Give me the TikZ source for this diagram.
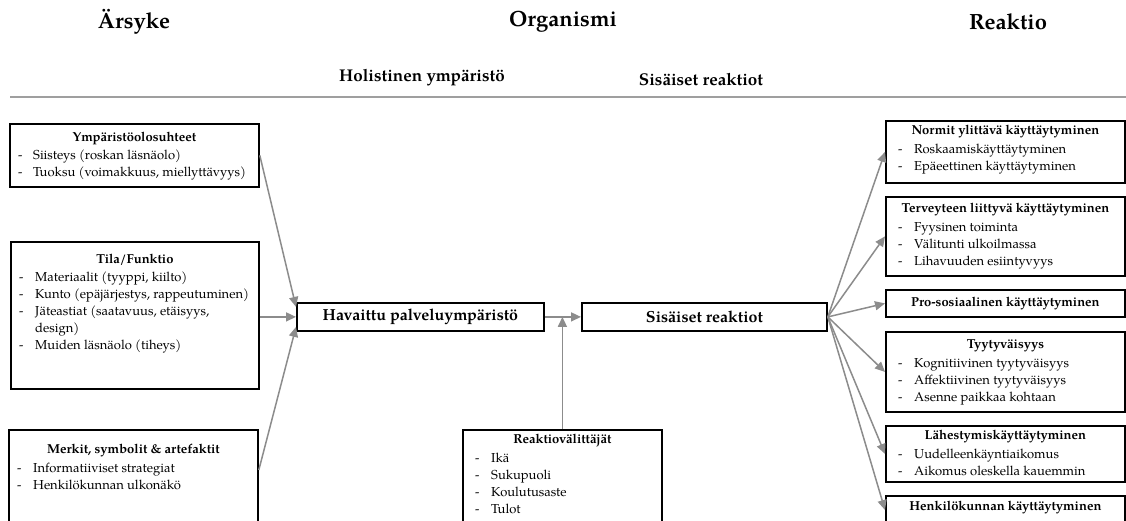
\documentclass[tikz,border=0pt]{standalone}
\usepackage{fontspec}
\setmainfont{texgyrepagella}[Extension=.otf, UprightFont=*-regular, BoldFont=*-bold, ItalicFont=*-italic, BoldItalicFont=*-bolditalic]
\usetikzlibrary{arrows.meta,calc}

\definecolor{linkgray}{HTML}{8C8C8C}

\tikzset{
  frame/.style={draw=black, line width=1.8pt, fill=white, anchor=north west, inner sep=0pt},
  headtext/.style={font=\fontsize{13}{17}\selectfont\bfseries, inner sep=0pt},
  body/.style={anchor=north west, inner sep=0pt, align=left, font=\fontsize{13}{17}\selectfont},
  bigbox/.style={frame, font=\fontsize{16}{19}\selectfont\bfseries},
  link/.style={draw=linkgray, line width=1.5pt, -{Triangle[length=10pt,width=9pt]}},
  column/.style={font=\fontsize{22}{26}\selectfont\bfseries, inner sep=0pt},
  subcolumn/.style={font=\fontsize{17}{20}\selectfont\bfseries, inner sep=0pt},
}

% list entry: dash followed by the text
\newcommand\dashitem[2][16pt]{\makebox[#1][l]{-}#2}

% boxed panel: name, x, y, width, height, title offset, item indent, title, items
\newcommand\panel[9]{%
  \node[frame, minimum width=#4pt, minimum height=#5pt] (#1) at (#2,#3) {};
  \node[headtext] (#1-t) at ($(#1.north)+(0,#6)$) {#8};
  \node[body] (#1-i) at ($(#1.north west)+(#7,#6+9.6)$) {\strut #9};
}

\begin{document}
\begin{tikzpicture}[x=1pt, y=-1pt]
  \clip (0,0) rectangle (1126,520);
  \fill[white] (0,0) rectangle (1126,520);

  % column headings
  \node[column] (cA) at (134,22) {Ärsyke};
  \node[column] (cB) at (563,22) {Organismi};
  \node[column] (cC) at (1008,22) {Reaktio};
  \node[subcolumn] (sA) at (422,78) {Holistinen ympäristö};
  \node[subcolumn] (sB) at (701,80) {Sisäiset reaktiot};
  \draw[draw=gray!75, line width=2pt] (10,97) -- (1126,97);

  % stimulus panels
  \panel{l1}{9}{123}{249}{63}{15}{9}{Ympäristöolosuhteet}{%
    \dashitem[15pt]{Siisteys (roskan läsnäolo)}\\
    \dashitem[15pt]{Tuoksu (voimakkuus, miellyttävyys)}}
  \panel{l2}{10}{241}{248}{147}{19}{9}{Tila/Funktio}{%
    \dashitem{Materiaalit (tyyppi, kiilto)}\\
    \dashitem{Kunto (epäjärjestys, rappeutuminen)}\\
    \dashitem{Jäteastiat (saatavuus, etäisyys,}\\
    \hspace*{16pt}design)\\
    \dashitem{Muiden läsnäolo (tiheys)}}
  \panel{l3}{8}{429}{249}{130}{22}{9}{Merkit, symbolit \& artefaktit}{%
    \dashitem{Informatiiviset strategiat}\\
    \dashitem{Henkilökunnan ulkonäkö}}

  % organism
  \node[bigbox, minimum width=247pt, minimum height=28pt] (hav) at (296,302) {Havaittu palveluympäristö};
  \node[bigbox, minimum width=245pt, minimum height=28pt] (sis) at (581,302) {Sisäiset reaktiot};
  \panel{rv}{462}{429}{199}{130}{12}{13}{Reaktiovälittäjät}{%
    \dashitem{Ikä}\\
    \dashitem{Sukupuoli}\\
    \dashitem{Koulutusaste}\\
    \dashitem{Tulot}}

  % response panels
  \panel{r1}{885}{120}{239}{62}{12}{13}{Normit ylittävä käyttäytyminen}{%
    \dashitem{Roskaamiskäyttäytyminen}\\
    \dashitem{Epäeettinen käyttäytyminen}}
  \panel{r2}{885}{196}{239}{79}{14}{13}{Terveyteen liittyvä käyttäytyminen}{%
    \dashitem{Fyysinen toiminta}\\
    \dashitem{Välitunti ulkoilmassa}\\
    \dashitem{Lihavuuden esiintyvyys}}
  \node[frame, headtext, minimum width=239pt, minimum height=27pt] (r3) at (885,289) {Pro-sosiaalinen käyttäytyminen};
  \panel{r4}{885}{331}{239}{80}{15}{13}{Tyytyväisyys}{%
    \dashitem{Kognitiivinen tyytyväisyys}\\
    \dashitem{Affektiivinen tyytyväisyys}\\
    \dashitem{Asenne paikkaa kohtaan}}
  \panel{r5}{885}{425}{239}{56}{12}{13}{Lähestymiskäyttäytyminen}{%
    \dashitem{Uudelleenkäyntiaikomus}\\
    \dashitem{Aikomus oleskella kauemmin}}
  \node[frame, minimum width=239pt, minimum height=60pt] (r6) at (885,495) {};
  \node[headtext] (r6-t) at ($(r6.north)+(0,13)$) {Henkilökunnan käyttäytyminen};

  % connectors
  \draw[link] (l1.east) -- ([yshift=10pt]hav.west);
  \draw[link] (l2.east |- hav.west) -- (hav.west);
  \draw[link] ([yshift=-41pt]l3.north east) -- ([yshift=-10pt]hav.west);
  \draw[link] (hav.east) -- (sis.west);
  \coordinate (join) at (rv.north |- hav.east);
  \draw[link] (rv.north) -- (join);
  \draw[link] (sis.east) -- (r1.west);
  \draw[link] (sis.east) -- (r2.west);
  \draw[link] (sis.east) -- (r3.west);
  \draw[link] (sis.east) -- (r4.west);
  \draw[link] (sis.east) -- (r5.west);
  \draw[link] (sis.east) -- ([yshift=-15pt]r6.north west);
\end{tikzpicture}
\end{document}
